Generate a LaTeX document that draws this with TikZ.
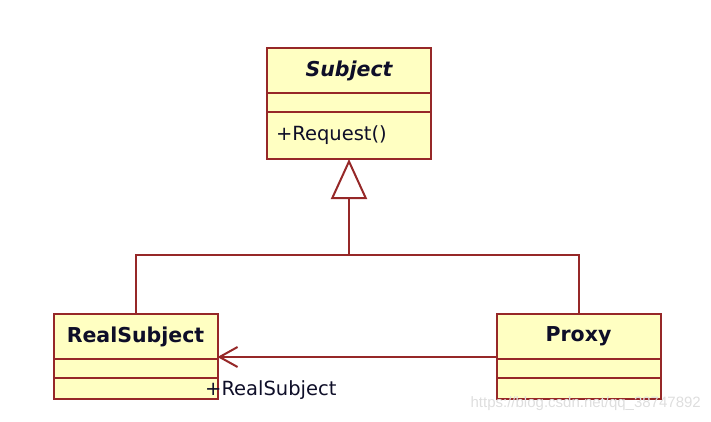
\documentclass[tikz,border=0pt]{standalone}
\usepackage{fontspec}
\setmainfont{DejaVu Sans}
\newfontfamily\markfont{Liberation Sans}
\usepackage{tikz}
\usetikzlibrary{positioning}
\usetikzlibrary{arrows.meta}

\definecolor{umlline}{RGB}{150,40,40}
\definecolor{umlfill}{RGB}{255,255,194}
\definecolor{umltext}{RGB}{14,14,40}
\definecolor{marktext}{RGB}{222,222,222}

\tikzset{
  classbox/.style={draw=umlline, fill=umlfill, line width=2pt, minimum width=164pt,
    inner sep=0pt, outer sep=0pt, text=umltext},
  classhead/.style={classbox, minimum height=45pt, font=\fontsize{20.5}{24}\selectfont\bfseries},
  classattr/.style={classbox, minimum height=19pt},
  classops/.style={classbox, font=\fontsize{19.5}{23}\selectfont, text width=146pt, align=left},
  link/.style={draw=umlline, line width=2pt},
}

\begin{document}
\begin{tikzpicture}[x=1pt,y=-1pt]
        \useasboundingbox (0,0) rectangle (711,422);

        % abstract class
        \node[classhead] (subject) at (349,70.5) {\itshape Subject};
        \node[classattr, below=0pt of subject] (subject attr) {};
        \node[classops, minimum height=47pt, below=0pt of subject attr] (subject ops) {+Request()};

        % real subject and proxy
        \node[classhead] (realsubject) at (135.5,336.5) {RealSubject};
        \node[classattr, below=0pt of realsubject] (realsubject attr) {};
        \node[classops, minimum height=21pt, below=0pt of realsubject attr] (realsubject ops) {};

        \node[classhead] (proxy) at (578.5,336.5) {Proxy};
        \node[classattr, below=0pt of proxy] (proxy attr) {};
        \node[classops, minimum height=21pt, below=0pt of proxy attr] (proxy ops) {};

        % generalization
        \coordinate[yshift=-96pt] (branch) at (subject ops.south);
        \draw[link] (realsubject.north) |- (branch) -| (proxy.north);
        \draw[link, -{Triangle[open, length=40pt, width=36pt, fill=white]}] (branch) -- (subject ops.south);

        % association
        \draw[link, -{Straight Barb[length=18pt, width=20pt]}] ([yshift=2pt]proxy.south west) -- ([yshift=2pt]realsubject.south east);
        \node[anchor=west, inner sep=0pt, text=umltext, font=\fontsize{19.5}{23}\selectfont] (role) at (205,390) {+RealSubject};

        \node[anchor=east, inner sep=0pt, text=marktext, font=\markfont\fontsize{15}{18}\selectfont] (mark) at (701,404) {https://blog.csdn.net/qq\_38747892};
\end{tikzpicture}
\end{document}
